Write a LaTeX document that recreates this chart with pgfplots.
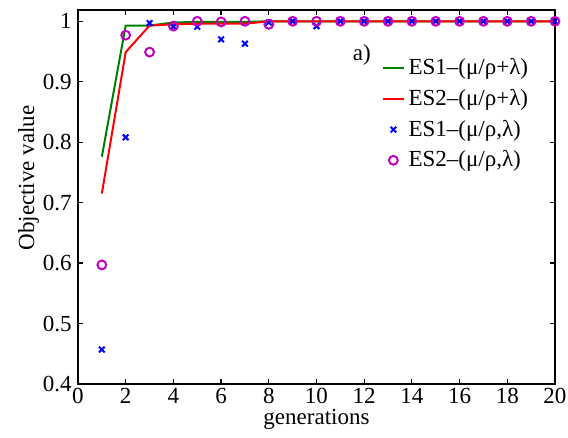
\documentclass[border=0pt]{standalone}
\usepackage{fontspec}
\setmainfont{Liberation Serif}
\usepackage{pgfplots}
\pgfplotsset{compat=1.18}

\definecolor{esgreen}{rgb}{0,0.5,0}
\definecolor{esmag}{rgb}{0.75,0,0.75}

\pgfplotsset{
  shortline/.style={legend image code/.code={\draw[##1] (0cm,0cm) -- (0.36cm,0cm);}},
  markonly/.style={legend image code/.code={\draw[##1] plot coordinates {(0.18cm,0cm)};}},
}

\begin{document}
\fontsize{11.5}{13}\selectfont
\begin{tikzpicture}
\begin{axis}[
  scale only axis,
  width=238.5pt, height=187pt,
  xmin=0, xmax=20, ymin=0.4, ymax=1.0187,
  xtick={0,2,...,20},
  ytick={0.4,0.5,0.6,0.7,0.8,0.9,1},
  yticklabels={0.4,0.5,0.6,0.7,0.8,0.9,1},
  tick align=inside,
  major tick length=2.5pt,
  axis line style={line width=0.7pt},
  every tick/.style={black, line width=0.6pt},
  /pgf/number format/assume math mode=true,
  tick label style={font=\fontsize{11.5}{13}\selectfont},
  xticklabel style={yshift=1.8pt},
  yticklabel style={xshift=0.8pt},
  label style={font=\fontsize{11.5}{13}\selectfont},
  xlabel={generations},
  ylabel={Objective value},
  xlabel style={at={(axis description cs:0.5,-0.107)}, anchor=base},
  ylabel style={at={(axis description cs:-0.0922,0.551)}, anchor=base},
  legend style={draw=none, fill=none, at={(axis cs:12.65,0.949)}, anchor=north west,
    font=\fontsize{11.5}{13}\selectfont, row sep=1.5pt, inner sep=1pt},
  legend cell align=left,
]
\addplot[esgreen, line width=1pt, shortline] coordinates {
  (1,0.776) (2,0.993) (3,0.993) (4,0.998) (5,0.999) (6,0.999) (7,0.999)
  (8,1) (9,1) (10,1) (11,1) (12,1) (13,1) (14,1) (15,1) (16,1) (17,1)
  (18,1) (19,1) (20,1)
};
\addlegendentry{ES1--(μ/ρ+λ)}
\addplot[red, line width=1pt, shortline] coordinates {
  (1,0.715) (2,0.949) (3,0.993) (4,0.995) (5,0.996) (6,0.996) (7,0.996)
  (8,1) (9,1) (10,1) (11,1) (12,1) (13,1) (14,1) (15,1) (16,1) (17,1)
  (18,1) (19,1) (20,1)
};
\addlegendentry{ES2--(μ/ρ+λ)}
\addplot[only marks, blue, mark=x, mark size=2pt, mark options={line width=1pt}, markonly] coordinates {
  (1,0.457) (2,0.808) (3,0.997) (4,0.991) (5,0.991) (6,0.970) (7,0.963)
  (8,0.998) (9,1) (10,0.992) (11,1) (12,1) (13,1) (14,1) (15,1) (16,1)
  (17,1) (18,1) (19,1) (20,1)
};
\addlegendentry{ES1--(μ/ρ,λ)}
\addplot[only marks, esmag, mark=o, mark size=2.2pt, mark options={line width=1pt}, markonly] coordinates {
  (1,0.597) (2,0.977) (3,0.949) (4,0.992) (5,1) (6,0.999) (7,1)
  (8,0.995) (9,1) (10,1) (11,1) (12,1) (13,1) (14,1) (15,1) (16,1)
  (17,1) (18,1) (19,1) (20,1)
};
\addlegendentry{ES2--(μ/ρ,λ)}
\node at (axis cs:11.9,0.944) {a)};
\end{axis}
\pgfresetboundingbox
\path (-39pt,-27pt) rectangle (245pt,192pt);
\end{tikzpicture}
\end{document}
